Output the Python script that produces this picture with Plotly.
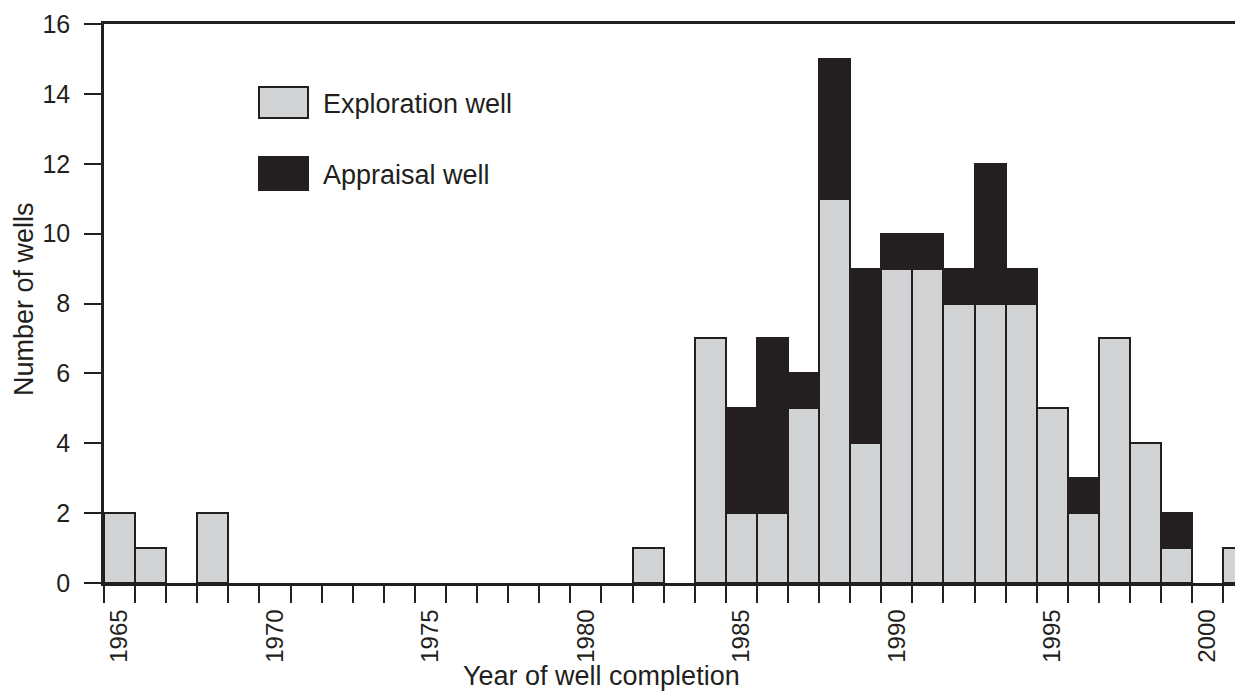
import plotly.graph_objects as go

years = list(range(1965, 2002))
exploration = [2, 1, 0, 2, 0, 0, 0, 0, 0, 0, 0, 0, 0, 0, 0, 0, 0,
               1, 0, 7, 2, 2, 5, 11, 4, 9, 9, 8, 8, 8, 5, 2, 7, 4, 1, 0, 1]
appraisal = [0, 0, 0, 0, 0, 0, 0, 0, 0, 0, 0, 0, 0, 0, 0, 0, 0,
             0, 0, 0, 3, 5, 1, 4, 5, 1, 1, 1, 4, 1, 0, 1, 0, 0, 1, 0, 0]
tick_years = [1965, 1970, 1975, 1980, 1985, 1990, 1995, 2000]
y_ticks = [0, 2, 4, 6, 8, 10, 12, 14, 16]

INK = "#231f20"
GREY = "#d1d3d4"
FONT = "Liberation Sans, Arial, sans-serif"

# page body has an 8px default margin; compensate so the figure lands where the reference is
OFF = 8
W, H = 1243 - OFF, 691 - OFF
ML, MR, MT, MB = 104 - OFF, 0, 24 - OFF, 108
PW = W - ML - MR
PH = H - MT - MB
px_per_year = 31.09

def nz(v):
    return [x if x else None for x in v]

fig = go.Figure()
fig.add_trace(go.Bar(x=years, y=nz(exploration), name="Exploration well",
                     marker=dict(color=GREY, line=dict(color=INK, width=2)),
                     width=1))
fig.add_trace(go.Bar(x=years, y=nz(appraisal), name="Appraisal well",
                     marker=dict(color=INK, line=dict(color=INK, width=2)),
                     width=1))

# helpers convert reference-image pixel positions into paper coordinates
def px2x(p):
    return (p - OFF - ML) / PW

def px2y(p):
    return (MT + PH - (p - OFF)) / PH

shapes = []
annots = []
legend_items = [("Exploration well", GREY, 87, 118), ("Appraisal well", INK, 157, 190)]
for label, col, y0, y1 in legend_items:
    shapes.append(dict(type="rect", xref="paper", yref="paper",
                       x0=px2x(259), x1=px2x(308), y0=px2y(y1), y1=px2y(y0),
                       fillcolor=col, line=dict(color=INK, width=2)))
    annots.append(dict(text=label, xref="paper", yref="paper",
                       x=px2x(321), y=px2y((y0 + y1) / 2 + 1), xanchor="left", yanchor="middle",
                       showarrow=False, font=dict(size=27, color=INK, family=FONT)))

annots.append(dict(text="Year of well completion", xref="paper", yref="paper",
                   x=px2x(601), y=px2y(676), xanchor="center", yanchor="middle",
                   showarrow=False, font=dict(size=27, color=INK, family=FONT)))
annots.append(dict(text="Number of wells", xref="paper", yref="paper",
                   x=px2x(24), y=px2y(299), xanchor="center", yanchor="middle",
                   textangle=-90, showarrow=False, font=dict(size=27, color=INK, family=FONT)))

fig.update_layout(
    width=W, height=H,
    margin=dict(l=ML, r=MR, t=MT, b=MB, autoexpand=False),
    paper_bgcolor="white", plot_bgcolor="white",
    barmode="stack", bargap=0, showlegend=False,
    font=dict(family=FONT, color=INK),
    shapes=shapes, annotations=annots,
    xaxis=dict(range=[1964.5, 1964.5 + PW / px_per_year],
               tickmode="array", tickvals=tick_years, ticktext=[str(t) for t in tick_years],
               tickangle=-90, ticks="", ticklabelstandoff=14,
               tickfont=dict(size=24, color=INK, family=FONT),
               showline=True, linecolor=INK, linewidth=2.5, mirror=True,
               showgrid=False, zeroline=False,
               minor=dict(ticks="outside", ticklen=17, tickwidth=2, tickcolor=INK,
                          tick0=1964.5, dtick=1, showgrid=False)),
    yaxis=dict(range=[0, 16], tickmode="array", tickvals=y_ticks,
               ticks="outside", ticklen=17, tickwidth=2, tickcolor=INK,
               ticklabelstandoff=9,
               tickfont=dict(size=25, color=INK, family=FONT),
               showline=True, linecolor=INK, linewidth=2.5,
               showgrid=False, zeroline=False),
)

fig.write_html("out.html")
